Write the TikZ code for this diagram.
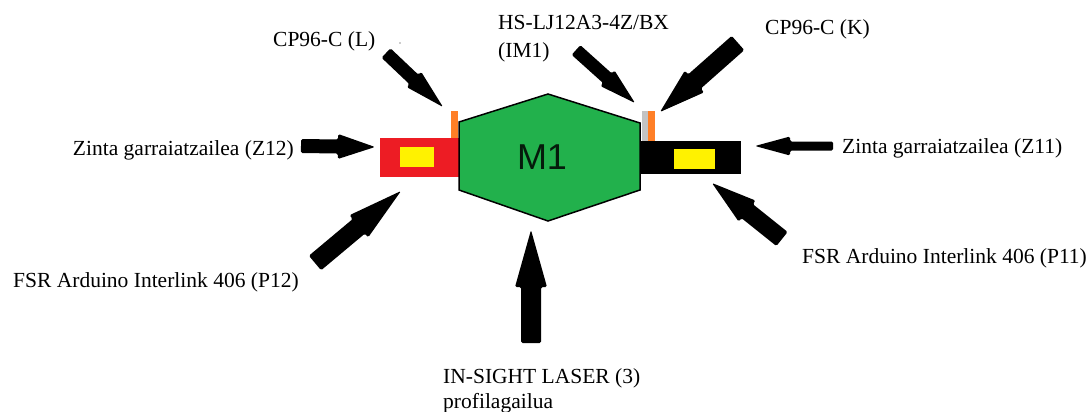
\documentclass[tikz,border=0pt]{standalone}
\usepackage{fontspec}
\setmainfont{Liberation Serif}
\newfontfamily\sansM{Liberation Sans}
\usetikzlibrary{calc}
\definecolor{pgreen}{HTML}{22B14C}
\definecolor{pred}{HTML}{ED1C24}
\definecolor{pyellow}{HTML}{FFF200}
\definecolor{porange}{HTML}{FF7F27}
\definecolor{pgrey}{HTML}{C3C3C3}
% #1 tail, #2 tip, #3 shaft half width, #4 head half width, #5 head length
\newcommand{\fatarrow}[5]{%
  \coordinate (hb) at ($(#2)!#5!(#1)$);
  \fill[fatarr] ($(#1)!#3!90:(#2)$) -- ($(hb)!#3!90:(#2)$) -- ($(hb)!#4!90:(#2)$)
    -- (#2) -- ($(hb)!#4!-90:(#2)$) -- ($(hb)!#3!-90:(#2)$) -- ($(#1)!#3!-90:(#2)$) -- cycle;
}
\begin{document}
\begin{tikzpicture}[x=1pt,y=-1pt,
  lbl/.style={font=\fontsize{21.5}{24}\selectfont, inner sep=0pt, anchor=base west},
  fatarr/.style={black, rounded corners=1.5pt}]
\useasboundingbox (0,0) rectangle (1090,412);
% conveyor parts
\fill[pred] (380,138) rectangle (459,177);
\fill[pyellow] (400,147) rectangle (434,167);
\fill[black] (640,141) rectangle (741,174);
\fill[pyellow] (674,149) rectangle (715,169);
% machine M1
\draw[fill=pgreen, line width=1.5pt] (459,122) -- (548,94) -- (640,123) -- (640,190) -- (548,221) -- (459,190) -- cycle;
\node[font=\sansM\fontsize{36}{40}\selectfont, text=black!85!pgreen] (m1) at (542,157) {M1};
% sensors strips
\fill[porange] (451,111) rectangle (458,138);
\fill[pgrey] (642,111) rectangle (648,141);
\fill[porange] (648,111) rectangle (655,141);
\fill[black!40] (400,43) circle (0.8pt);
% labels
\node[lbl] (lCPL) at (273,47) {CP96-C (L)};
\node[lbl, anchor=base east] (lZ12) at (294,155) {Zinta garraiatzailea (Z12)};
\node[lbl] (lP12) at (13,287) {FSR Arduino Interlink 406 (P12)};
\node[lbl] (lHS) at (498,30) {HS-LJ12A3-4Z/BX};
\node[lbl] (lIM1) at (498,58) {(IM1)};
\node[lbl] (lCPK) at (765,35) {CP96-C (K)};
\node[lbl] (lZ11) at (842,153) {Zinta garraiatzailea (Z11)};
\node[lbl] (lP11) at (802,263) {FSR Arduino Interlink 406 (P11)};
\node[lbl] (lLas) at (443,383) {IN-SIGHT LASER (3)};
\node[lbl] (lProf) at (443,408) {profilagailua};
% arrow coordinates
\coordinate (tZ12) at (301,146); \coordinate (pZ12) at (375,147);
\coordinate (tZ11) at (833,146); \coordinate (pZ11) at (755,146);
\coordinate (tP12) at (315,263); \coordinate (pP12) at (401,191);
\coordinate (tCPL) at (386,53);  \coordinate (pCPL) at (443,107);
\coordinate (tHS) at (576,50);   \coordinate (pHS) at (635,103);
\coordinate (tCPK) at (738,43);  \coordinate (pCPK) at (660,112);
\coordinate (tP11) at (782,239); \coordinate (pP11) at (712,183);
\coordinate (tLas) at (531,343); \coordinate (pLas) at (531,230);
% arrows
\fatarrow{tZ12}{pZ12}{7pt}{12.5pt}{37pt}
\fatarrow{tZ11}{pZ11}{4.5pt}{9.5pt}{35pt}
\fatarrow{tP12}{pP12}{9.5pt}{14.5pt}{55pt}
\fatarrow{tCPL}{pCPL}{6.5pt}{10.5pt}{40pt}
\fatarrow{tHS}{pHS}{6.5pt}{10.5pt}{37pt}
\fatarrow{tCPK}{pCPK}{9.5pt}{14.5pt}{46pt}
\fatarrow{tP11}{pP11}{9pt}{13.5pt}{45pt}
\fatarrow{tLas}{pLas}{10pt}{16pt}{57pt}
\end{tikzpicture}
\end{document}
